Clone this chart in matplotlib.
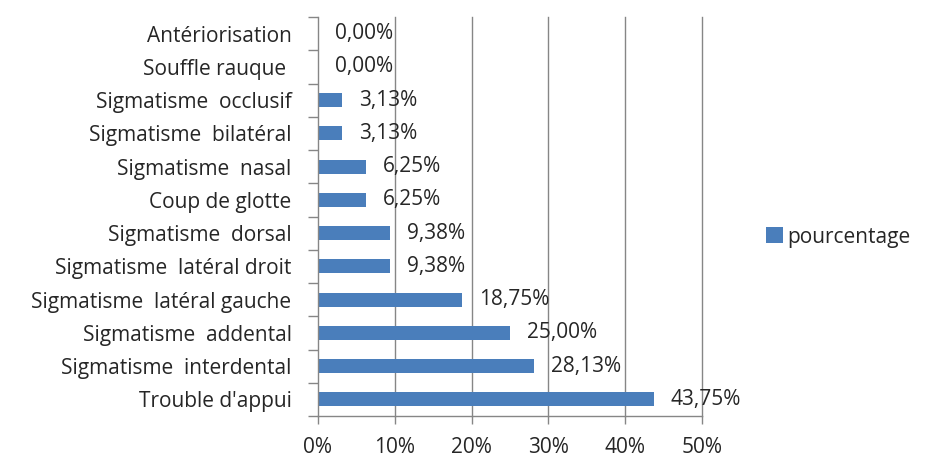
import matplotlib
matplotlib.use("Agg")
import matplotlib.pyplot as plt
import numpy as np

categories = [
    "Trouble d'appui",
    "Sigmatisme  interdental",
    "Sigmatisme  addental",
    "Sigmatisme  latéral gauche",
    "Sigmatisme  latéral droit",
    "Sigmatisme  dorsal",
    "Coup de glotte",
    "Sigmatisme  nasal",
    "Sigmatisme  bilatéral",
    "Sigmatisme  occlusif",
    "Souffle rauque ",
    "Antériorisation",
]
pourcentage = [43.75, 28.13, 25.00, 18.75, 9.38, 9.38, 6.25, 6.25, 3.13, 3.13, 0.00, 0.00]
xticks = [0, 10, 20, 30, 40, 50]
series_name = "pourcentage"

BAR = "#4A7EBB"
TEXT = "#262626"
GRID = "#868686"
FS = 15

plt.rcParams["font.family"] = ["Open Sans", "DejaVu Sans"]

fig = plt.figure(figsize=(9.28, 4.59), dpi=100)
ax = fig.add_axes([318 / 928, 1 - 416 / 459, 384 / 928, 399 / 459])

y = np.arange(len(categories))
bars = ax.barh(y, pourcentage, height=0.42, color=BAR, label=series_name, zorder=2)

for yi, v in zip(y, pourcentage):
    ax.annotate(f"{v:.2f}%".replace(".", ","), (v, yi), xytext=(12, 0),
                textcoords="offset points", va="center", ha="left",
                fontsize=FS, color=TEXT, zorder=3)

ax.set_xlim(0, 50)
ax.set_ylim(-0.5, len(categories) - 0.5)
ax.set_xticks(xticks)
ax.set_xticklabels([f"{t}%" for t in xticks], fontsize=FS, color=TEXT)
ax.set_yticks(y)
ax.set_yticklabels(categories, fontsize=FS, color=TEXT)
ax.set_yticks(np.arange(-0.5, len(categories)), minor=True)

ax.tick_params(axis="y", which="major", length=0, pad=19)
ax.tick_params(axis="y", which="minor", length=7, width=1, color=GRID, direction="out")
ax.tick_params(axis="x", which="major", length=6, width=1, color=GRID, direction="out", pad=9)

for x in xticks[1:]:
    ax.axvline(x, color=GRID, lw=1, zorder=1, clip_on=False)

for s in ("top", "right"):
    ax.spines[s].set_visible(False)
for s in ("left", "bottom"):
    ax.spines[s].set_color(GRID)
    ax.spines[s].set_linewidth(1)

leg = fig.legend(handles=[bars], labels=[series_name], loc="center left",
                 bbox_to_anchor=(766 / 928, 1 - 237 / 459), frameon=False,
                 fontsize=FS, handlelength=0.8, handleheight=0.8,
                 handletextpad=0.2, borderpad=0, borderaxespad=0)
for t in leg.get_texts():
    t.set_color(TEXT)

fig.savefig("out.png", dpi=100)
